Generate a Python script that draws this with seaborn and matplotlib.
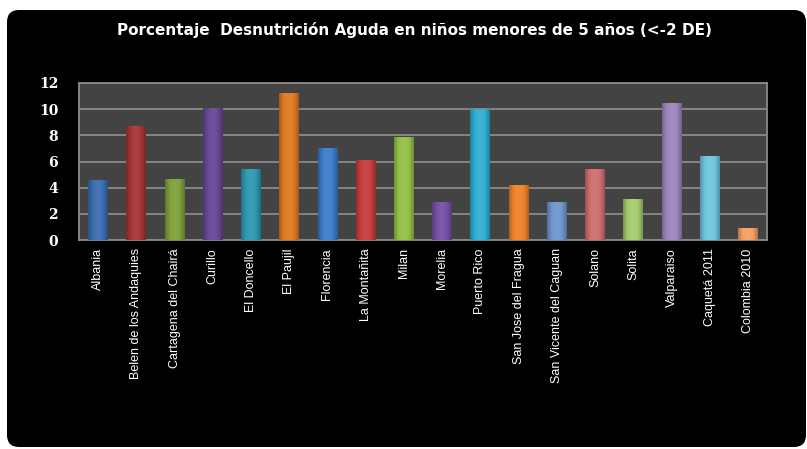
import numpy as np
import pandas as pd
import matplotlib
matplotlib.use("Agg")
import matplotlib.pyplot as plt
import seaborn as sns
from matplotlib.patches import FancyBboxPatch
from matplotlib.colors import to_rgb

municipios = ["Albania", "Belen de los Andaquies", "Cartagena del Chairá", "Curillo",
              "El Doncello", "El Paujil", "Florencia", "La Montañita", "Milan", "Morelia",
              "Puerto Rico", "San Jose del Fragua", "San Vicente del Caguan", "Solano",
              "Solita", "Valparaiso", "Caquetá 2011", "Colombia 2010"]
porcentaje = [4.6, 8.7, 4.7, 10.1, 5.4, 11.2, 7.0, 6.1, 7.9, 2.9,
              10.0, 4.2, 2.9, 5.4, 3.1, 10.5, 6.4, 0.9]
colores = ["#3A6DAF", "#A83434", "#7FA13C", "#684896", "#2E98B0", "#E07A22",
           "#3C7DCA", "#C63E3E", "#97C046", "#764EA6", "#2FAED0", "#F0822A",
           "#6F96CE", "#CF6E6E", "#A6CB6E", "#9C86BE", "#6EC6DE", "#F6A063"]
y_ticks = [0, 2, 4, 6, 8, 10, 12]
titulo = "Porcentaje  Desnutrición Aguda en niños menores de 5 años (<-2 DE)"

df = pd.DataFrame({"municipio": municipios, "valor": porcentaje})

sns.set_theme(style="dark")
plt.rcParams["font.family"] = ["DejaVu Sans"]

W, H = 807, 449
fig = plt.figure(figsize=(W / 100, H / 100), dpi=100)
fig.patch.set_facecolor("white")

bg = FancyBboxPatch((7 / W, 2 / H), (W - 1) / W - 7 / W, (H - 10) / H - 2 / H,
                    boxstyle="round,pad=0,rounding_size=0.015",
                    transform=fig.transFigure, facecolor="black", edgecolor="none",
                    mutation_aspect=W / H, zorder=-10)
fig.patches.append(bg)

ax = fig.add_axes([79 / W, 1 - 240 / H, 688 / W, 157 / H])
ax.set_zorder(5)
ax.set_facecolor("#434343")

sns.barplot(data=df, x="municipio", y="valor", hue="municipio", palette=colores,
            legend=False, width=0.52, ax=ax, saturation=1, zorder=3, linewidth=0)

# cylinder shading on each bar
grad = np.linspace(0, 1, 64)
shade = 0.62 + 0.48 * np.sin(np.pi * (grad * 0.85 + 0.08))
for patch, c in zip(ax.patches, colores):
    patch.set_edgecolor("none")
    r, g, b = to_rgb(c)
    img = np.zeros((2, 64, 3))
    for i, s in enumerate(shade):
        f = min(s, 1.15)
        if f <= 1:
            img[:, i] = [r * f, g * f, b * f]
        else:
            t = (f - 1) * 0.6
            img[:, i] = [r + (1 - r) * t, g + (1 - g) * t, b + (1 - b) * t]
    x0, y0 = patch.get_x(), patch.get_y()
    w, h = patch.get_width(), patch.get_height()
    im = ax.imshow(img, extent=[x0, x0 + w, y0, y0 + h], aspect="auto",
                   zorder=4, interpolation="bilinear")
    im.set_clip_path(patch)

ax.set_xlim(-0.5, len(municipios) - 0.5)
ax.set_ylim(0, 12)
ax.set_yticks(y_ticks)
ax.set_yticklabels([str(t) for t in y_ticks])
ax.yaxis.grid(True, color="#8a8a8a", linewidth=1.3, zorder=1)
ax.xaxis.grid(False)
ax.set_axisbelow(True)
ax.set_xlabel("")
ax.set_ylabel("")

for s in ax.spines.values():
    s.set_visible(True)
    s.set_color("#8a8a8a")
    s.set_linewidth(1.3)

ax.tick_params(axis="y", length=0, pad=15, labelcolor="white", labelsize=10)
for lab in ax.get_yticklabels():
    lab.set_fontweight("bold")
    lab.set_family("DejaVu Serif")
ax.tick_params(axis="x", length=0, pad=6, labelcolor="white")
ax.set_xticks(range(len(municipios)))
ax.set_xticklabels(municipios, rotation=90, fontsize=9, family="Liberation Sans",
                   va="top", ha="center")

fig.text(414 / W, 1 - 30 / H, titulo, color="white", fontsize=11,
         fontweight="bold", ha="center", va="center", family="DejaVu Sans")

fig.savefig("out.png", dpi=100, facecolor=fig.get_facecolor())
